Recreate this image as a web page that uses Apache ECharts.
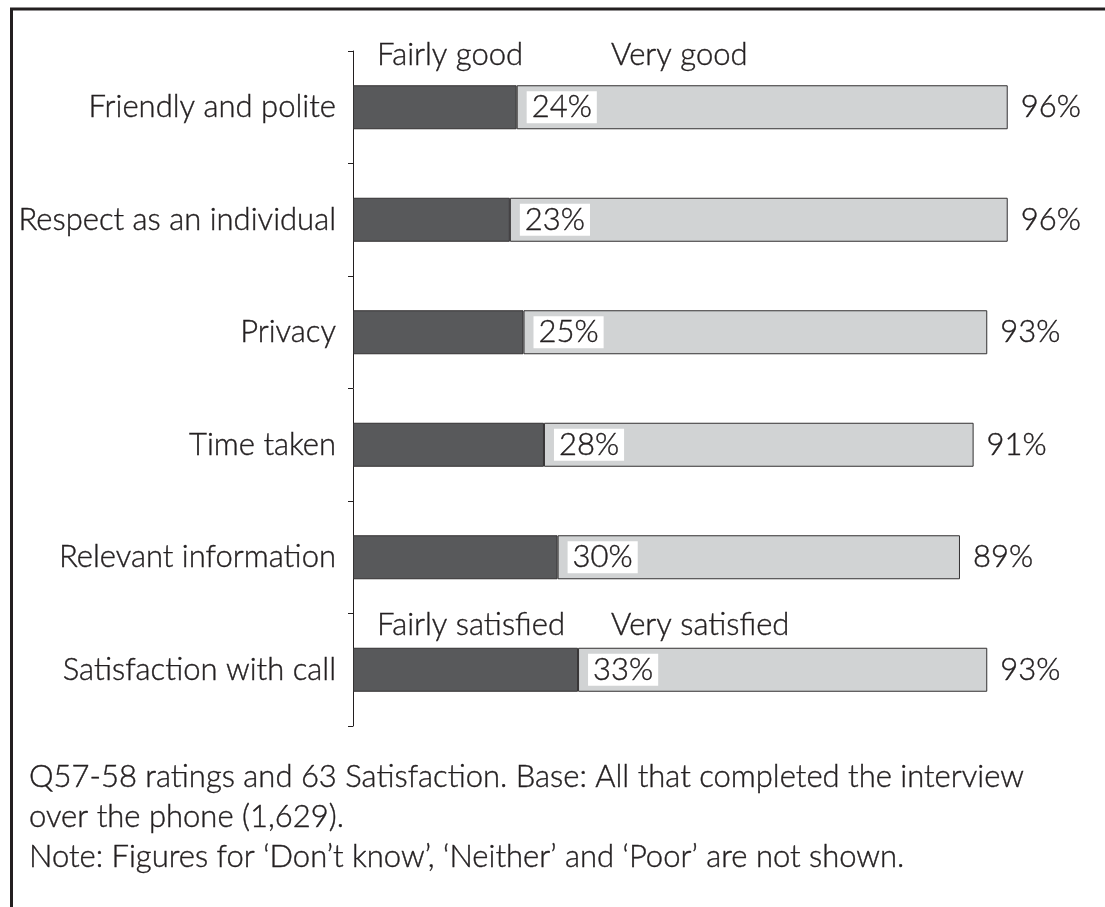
<!DOCTYPE html>
<html>
<head>
<meta charset="utf-8">
<script src="https://cdn.jsdelivr.net/npm/echarts@6/dist/echarts.min.js"></script>
<style>html,body{margin:0;padding:0;background:#fff;}#c{width:1105px;height:907px;}</style>
</head>
<body>
<div id="c"></div>
<script>
const categories = ['Friendly and polite', 'Respect as an individual', 'Privacy', 'Time taken', 'Relevant information', 'Satisfaction with call'];
const fairlyValues = [24, 23, 25, 28, 30, 33];
const veryValues = [72, 73, 68, 63, 59, 60];
const totalValues = [96, 96, 93, 91, 89, 93];
const headerTop = ['Fairly good', 'Very good'];
const headerBottom = ['Fairly satisfied', 'Very satisfied'];
const footLines = [
  'Q57-58 ratings and 63 Satisfaction. Base: All that completed the interview',
  'over the phone (1,629).',
  'Note: Figures for \u2018Don\u2019t know\u2019, \u2018Neither\u2019 and \u2018Poor\u2019 are not shown.'
];

const FONT = 'Lato, "Open Sans", sans-serif';
const FW = 300;
const INK = '#231f20';
const FS = 31;
const TB = {textBorderColor: INK, textBorderWidth: 0.4};

const chart = echarts.init(document.getElementById('c'), null, {renderer: 'canvas'});
const txt = (x, y, s) => ({
  type: 'text', x: x, y: y,
  style: Object.assign({text: s, fill: INK, fontSize: FS, fontFamily: FONT, fontWeight: FW, verticalAlign: 'middle', align: 'left', stroke: INK, lineWidth: 0.4})
});

const graphics = [
  {type: 'line', shape: {x1: 11.5, y1: 9, x2: 11.5, y2: 907}, style: {stroke: INK, lineWidth: 3}},
  {type: 'line', shape: {x1: 10, y1: 9, x2: 1105, y2: 9}, style: {stroke: INK, lineWidth: 3}}
];

chart.setOption({
  animation: false,
  backgroundColor: '#ffffff',
  grid: {left: 353, right: 70, top: 51, bottom: 181},
  xAxis: {type: 'value', min: 0, max: 100, show: false},
  yAxis: {
    type: 'category', data: categories, inverse: true,
    axisLine: {show: true, lineStyle: {color: INK, width: 1}},
    axisTick: {show: true, length: 5, lineStyle: {color: INK}},
    axisLabel: Object.assign({color: INK, fontFamily: FONT, fontWeight: FW, fontSize: FS, margin: 17, padding: [18, 0, 0, 0]}, TB),
    splitLine: {show: false}
  },
  series: [
    {
      type: 'bar', stack: 's', data: fairlyValues, barWidth: 44,
      itemStyle: {color: '#58595b', borderColor: '#333132', borderWidth: 1},
      label: Object.assign({
        show: true, position: 'right', distance: 10,
        formatter: p => p.value + '%',
        color: INK, fontFamily: FONT, fontWeight: FW, fontSize: FS,
        backgroundColor: '#ffffff', padding: [0, 5, 0, 5], lineHeight: 32
      }, TB),
      z: 3
    },
    {
      type: 'bar', stack: 's', data: veryValues, barWidth: 44,
      itemStyle: {color: '#d1d3d4', borderColor: '#333132', borderWidth: 1},
      label: Object.assign({
        show: true, position: 'right', distance: 13,
        formatter: p => totalValues[p.dataIndex] + '%',
        color: INK, fontFamily: FONT, fontWeight: FW, fontSize: FS, padding: [16, 0, 0, 0]
      }, TB),
      z: 2
    }
  ],
  graphic: graphics
});

const yTop = chart.convertToPixel({yAxisIndex: 0}, categories[0]);
const yBot = chart.convertToPixel({yAxisIndex: 0}, categories[categories.length - 1]);
const x0 = chart.convertToPixel({xAxisIndex: 0}, 0);
const extra = [
  txt(x0 + 24, yTop - 52, headerTop[0]),
  txt(x0 + 258, yTop - 52, headerTop[1]),
  txt(x0 + 24, yBot - 45, headerBottom[0]),
  txt(x0 + 258, yBot - 45, headerBottom[1]),
  txt(29, 777, footLines[0]),
  txt(29, 817, footLines[1]),
  txt(29, 857, footLines[2])
];
chart.setOption({graphic: graphics.concat(extra)});
</script>
</body>
</html>
